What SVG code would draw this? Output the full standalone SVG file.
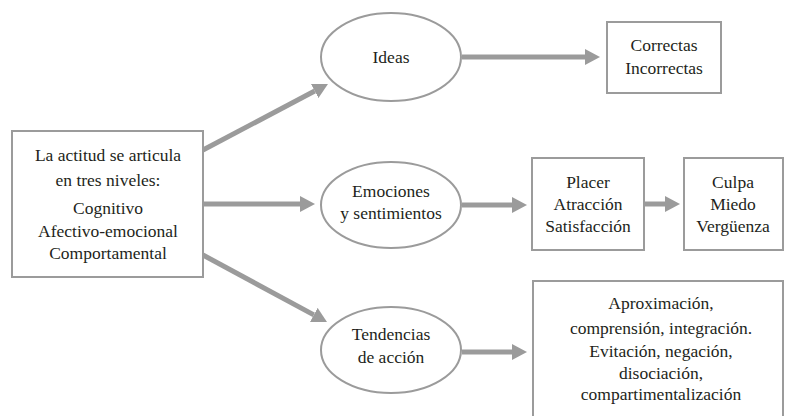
<svg xmlns="http://www.w3.org/2000/svg" width="789" height="416" viewBox="0 0 789 416">
<defs>
<marker id="ah" markerUnits="userSpaceOnUse" viewBox="0 -8 15 16" refX="0" refY="0" markerWidth="15" markerHeight="16" orient="auto">
<path d="M0,-8 L15,0 L0,8 z" fill="#9b9b9b"/>
</marker>
<style>
.box{fill:#fff;stroke:#9b9b9b;stroke-width:2}
.t{font-family:"Liberation Serif","Times New Roman","DejaVu Serif",serif;font-size:17.5px;fill:#231f20;text-anchor:middle}
.c{stroke:#9b9b9b;stroke-width:5;fill:none;marker-end:url(#ah)}
</style>
</defs>
<rect width="789" height="416" fill="#fff"/>
<g id="connectors">
<line class="c" x1="203" y1="150" x2="314.7" y2="91"/>
<line class="c" x1="203" y1="204" x2="300" y2="204"/>
<line class="c" x1="203" y1="255" x2="313.8" y2="314.9"/>
<line class="c" x1="462" y1="57" x2="585" y2="57"/>
<line class="c" x1="462" y1="205" x2="512" y2="205"/>
<line class="c" x1="644" y1="204" x2="665" y2="204"/>
<line class="c" x1="462" y1="352" x2="512" y2="352"/>
</g>
<g id="actitud">
<rect class="box" x="12" y="131" width="191" height="146"/>
<text class="t" x="108" y="161">La actitud se articula</text>
<text class="t" x="108" y="186">en tres niveles:</text>
<text class="t" x="108" y="214">Cognitivo</text>
<text class="t" x="108" y="237">Afectivo-emocional</text>
<text class="t" x="108" y="259">Comportamental</text>
</g>
<g id="ideas">
<ellipse class="box" cx="391" cy="57" rx="70" ry="44"/>
<text class="t" x="391" y="63">Ideas</text>
</g>
<g id="emociones">
<ellipse class="box" cx="391" cy="205" rx="70" ry="43"/>
<text class="t" x="391" y="197">Emociones</text>
<text class="t" x="391" y="219">y sentimientos</text>
</g>
<g id="tendencias">
<ellipse class="box" cx="391" cy="350" rx="70" ry="43"/>
<text class="t" x="391" y="340">Tendencias</text>
<text class="t" x="391" y="363">de acción</text>
</g>
<g id="correctas">
<rect class="box" x="607" y="22" width="114" height="71"/>
<text class="t" x="664" y="51">Correctas</text>
<text class="t" x="664" y="74">Incorrectas</text>
</g>
<g id="placer">
<rect class="box" x="532" y="158" width="112" height="92"/>
<text class="t" x="588" y="188">Placer</text>
<text class="t" x="588" y="210">Atracción</text>
<text class="t" x="588" y="232">Satisfacción</text>
</g>
<g id="culpa">
<rect class="box" x="684" y="158" width="99" height="92"/>
<text class="t" x="733" y="188">Culpa</text>
<text class="t" x="733" y="210">Miedo</text>
<text class="t" x="733" y="232">Vergüenza</text>
</g>
<g id="tendencias-resultado">
<rect class="box" x="533" y="281" width="250" height="145"/>
<text class="t" x="661" y="309">Aproximación,</text>
<text class="t" x="661" y="334">comprensión, integración.</text>
<text class="t" x="661" y="357">Evitación, negación,</text>
<text class="t" x="661" y="379">disociación,</text>
<text class="t" x="661" y="400">compartimentalización</text>
</g>
</svg>
